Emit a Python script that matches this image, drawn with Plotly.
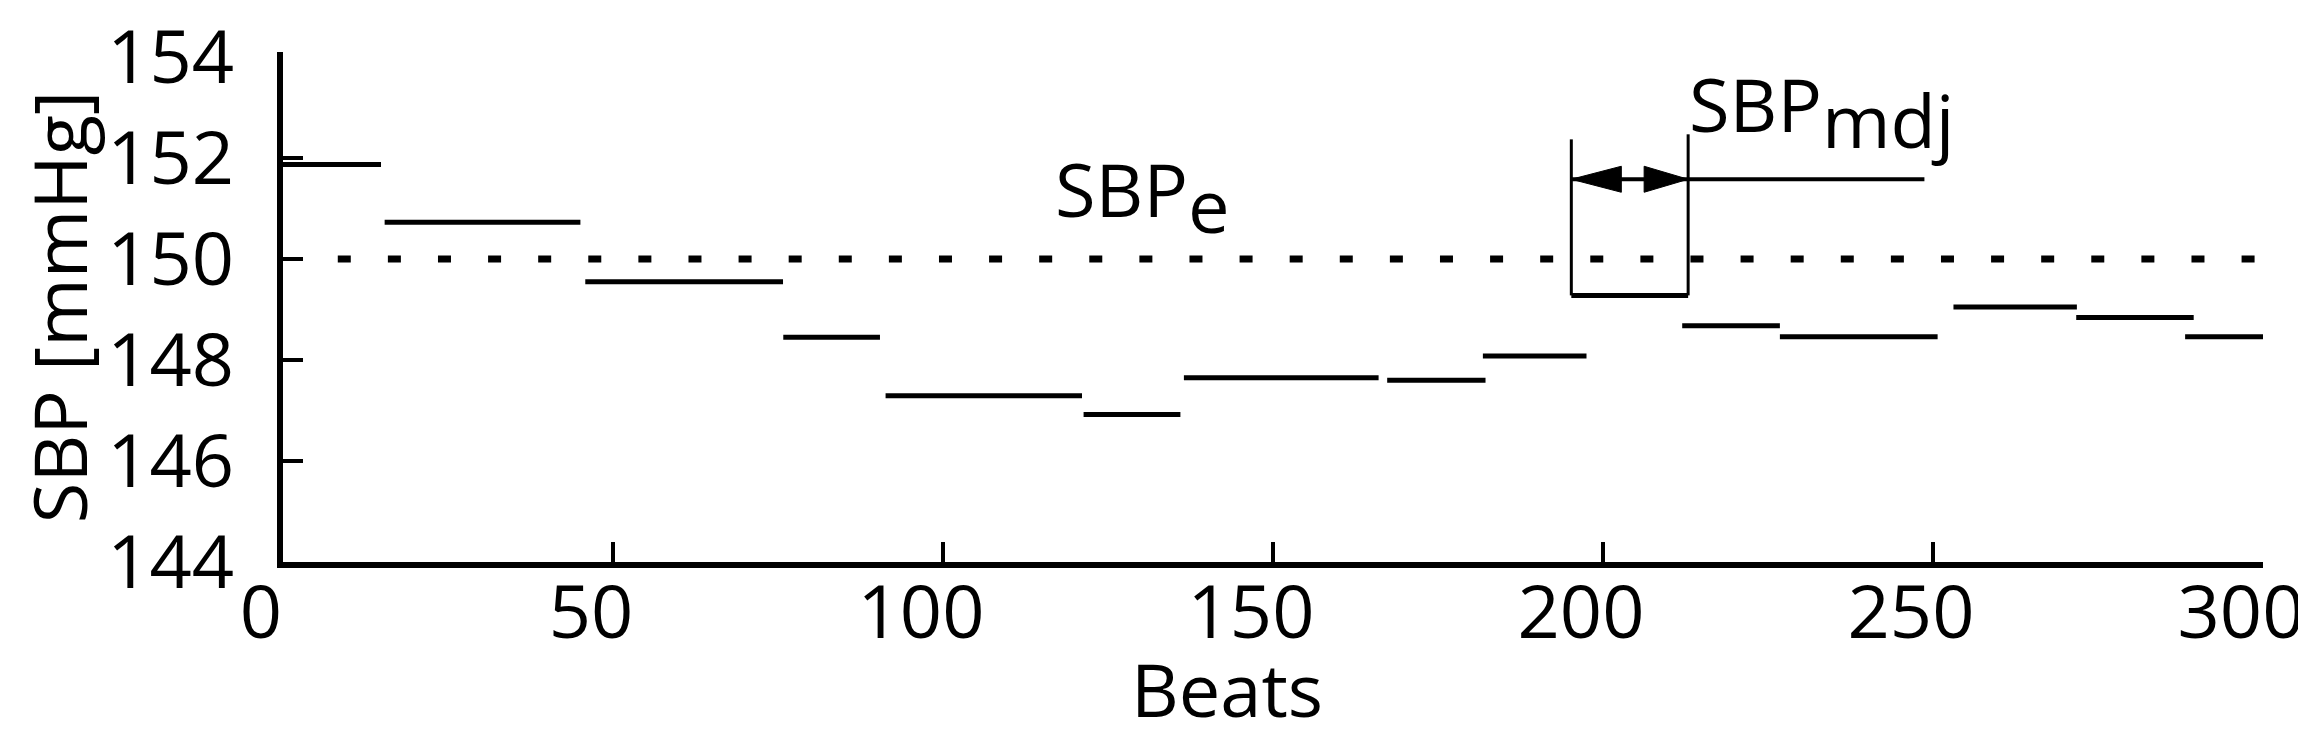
import plotly.graph_objects as go

# ---------------- data ----------------
# mean SBP of consecutive beat windows
seg_start = [0.0, 15.4, 45.8, 75.8, 91.3, 121.3, 136.5, 167.3, 181.8, 212.0, 226.8, 253.1, 271.7, 288.2]
seg_end   = [14.85, 45.06, 75.76, 90.45, 121.06, 135.97, 166.0, 182.2, 197.5, 226.8, 250.7, 271.8, 289.5, 302.7]
seg_sbp   = [151.87, 150.73, 149.55, 148.45, 147.29, 146.92, 147.65, 147.60, 148.08, 148.68, 148.46, 149.05, 148.84, 148.46]

# highlighted window (bracket) and SBP_mdj arrow
box_start, box_end = 195.2, 212.9
box_sbp = 149.28
box_top = [152.37, 152.47]          # left / right bracket tops
arrow_level = 151.58
arrow_end = 248.7

# SBP_e reference level
sbp_e = 150.0
ref_start, ref_end = 8.3, 300.0

x_ticks = [0, 50, 100, 150, 200, 250, 300]
x_minor = [50, 100, 150, 200, 250]
y_ticks = [144, 146, 148, 150, 152, 154]
y_minor = [146, 148, 150, 152]
x_range = [0, 300]
y_range = [144, 154.1]

# label anchor positions (data coords)
lbl_e_pos = (116.6, 151.24)
lbl_mdj_pos = (212.8, 152.92)
# x-axis title position (paper coords)
xtitle_pos = (0.477, -0.248)

# ---------------- layout constants ----------------
W, H = 2306, 754
ML, MR, MT, MB = 275, 51, 44, 200
FONT = "Open Sans"
FS = 74
px_per_x = (W - ML - MR) / (x_range[1] - x_range[0])
px_per_y = (H - MT - MB) / (y_range[1] - y_range[0])

fig = go.Figure()

# reference line SBP_e
fig.add_trace(go.Scatter(x=[ref_start, ref_end], y=[sbp_e, sbp_e], mode="lines",
                         line=dict(color="black", width=7, dash="13px,37.1px"),
                         hoverinfo="skip", showlegend=False))

# segments
xs, ys = [], []
for s, e, v in zip(seg_start, seg_end, seg_sbp):
    xs += [s, e, None]
    ys += [v, v, None]
fig.add_trace(go.Scatter(x=xs, y=ys, mode="lines", line=dict(color="black", width=5),
                         cliponaxis=False, showlegend=False))

# bracket bottom (highlighted window)
fig.add_trace(go.Scatter(x=[box_start, box_end], y=[box_sbp, box_sbp], mode="lines",
                         line=dict(color="black", width=5), showlegend=False))
# bracket verticals
fig.add_trace(go.Scatter(x=[box_start, box_start, None, box_end, box_end],
                         y=[box_sbp, box_top[0], None, box_sbp, box_top[1]], mode="lines",
                         line=dict(color="black", width=3), showlegend=False))
# arrow line
fig.add_trace(go.Scatter(x=[box_start, arrow_end], y=[arrow_level, arrow_level], mode="lines",
                         line=dict(color="black", width=4), showlegend=False))
# arrow heads (filled triangles)
head_len_l, head_len_r, head_h = 50, 44, 26
dxl = head_len_l / px_per_x
dxr = head_len_r / px_per_x
dy = head_h / 2 / px_per_y
for tip, dx in [(box_start, dxl), (box_end, -dxr)]:
    fig.add_trace(go.Scatter(x=[tip, tip + dx, tip + dx, tip],
                             y=[arrow_level, arrow_level + dy, arrow_level - dy, arrow_level],
                             mode="lines", fill="toself", fillcolor="black",
                             line=dict(color="black", width=1), showlegend=False))

# labels
fig.add_annotation(x=lbl_e_pos[0], y=lbl_e_pos[1], xref="x", yref="y", xanchor="left", yanchor="middle",
                   text="SBP<sub><span style='font-size:1.43em'>e</span></sub>", showarrow=False,
                   font=dict(family=FONT, size=FS, color="black"))
fig.add_annotation(x=lbl_mdj_pos[0], y=lbl_mdj_pos[1], xref="x", yref="y", xanchor="left", yanchor="middle",
                   text="SBP<sub><span style='font-size:1.43em'>mdj</span></sub>", showarrow=False,
                   font=dict(family=FONT, size=FS, color="black"))
# x-axis title
fig.add_annotation(x=xtitle_pos[0], y=xtitle_pos[1], xref="paper", yref="paper",
                   xanchor="center", yanchor="middle", text="Beats", showarrow=False,
                   font=dict(family=FONT, size=FS, color="black"))

fig.update_layout(
    width=W, height=H,
    margin=dict(l=ML, r=MR, t=MT, b=MB, autoexpand=False),
    paper_bgcolor="white", plot_bgcolor="white",
    font=dict(family=FONT, size=FS, color="black"),
    showlegend=False,
)
fig.update_xaxes(
    range=x_range, showline=True, linewidth=6, linecolor="black", mirror=False,
    showgrid=False, zeroline=False,
    tickmode="array", tickvals=x_ticks, ticktext=[str(v) for v in x_ticks], ticks="",
    tickfont=dict(family=FONT, size=FS, color="black"),
    ticklabelshift=-22, ticklabelstandoff=-19, ticklabeloverflow="allow",
    minor=dict(tickmode="array", tickvals=x_minor, ticks="inside", ticklen=20, tickwidth=4,
               tickcolor="black", showgrid=False),
    automargin=False,
)
fig.update_yaxes(
    range=y_range, showline=True, linewidth=6, linecolor="black",
    showgrid=False, zeroline=False,
    tickmode="array", tickvals=y_ticks, ticktext=[str(v) for v in y_ticks], ticks="",
    tickfont=dict(family=FONT, size=FS, color="black"),
    ticklabelstandoff=28, ticklabeloverflow="allow",
    minor=dict(tickmode="array", tickvals=y_minor, ticks="inside", ticklen=20, tickwidth=4,
               tickcolor="black", showgrid=False),
    title=dict(text="SBP [mmHg]", font=dict(family=FONT, size=FS, color="black"), standoff=22),
    automargin=False,
)

fig.write_html("out.html")
